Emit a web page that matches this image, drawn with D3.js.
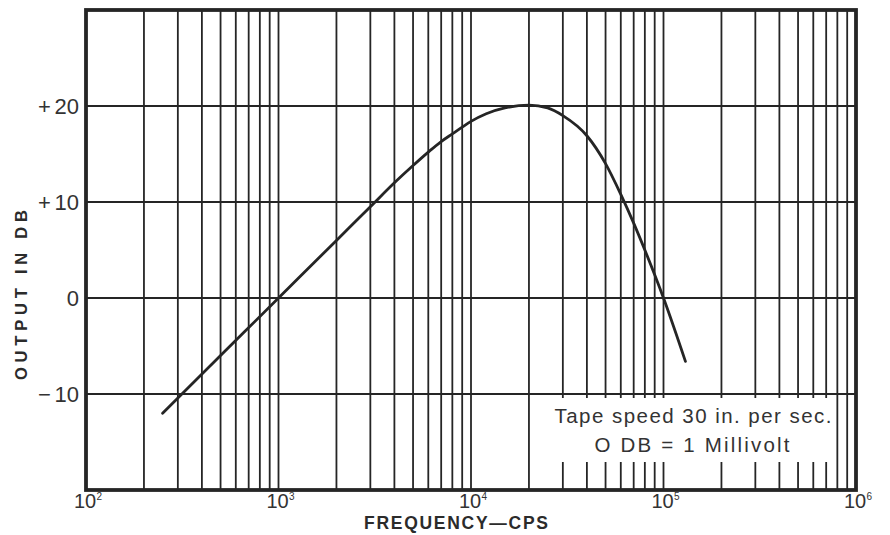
<!DOCTYPE html>
<html>
<head>
<meta charset="utf-8">
<script src="https://cdn.jsdelivr.net/npm/d3@7"></script>
<style>
  html, body { margin: 0; padding: 0; background: #ffffff; }
  svg { display: block; }
</style>
</head>
<body>
<svg id="chart" width="890" height="535"></svg>
<script>
// ---- data ----
const frequencyHz = [250, 500, 1000, 2000, 3000, 4000, 5000, 6000, 7000, 8000, 9000, 10000, 12000, 15000, 20000, 25000, 30000, 40000, 50000, 60000, 70000, 80000, 100000, 130000];
const outputDb    = [-12, -6, 0, 6, 9.5, 12.0, 13.8, 15.2, 16.3, 17.1, 17.8, 18.4, 19.2, 19.8, 20.1, 19.8, 19.0, 16.9, 14.0, 10.8, 7.8, 5.0, 0, -6.6];
const xDecades    = [2, 3, 4, 5, 6];
const yTicks      = [-10, 0, 10, 20];
const yTickSigns  = ["\u2212", "", "+", "+"];
const yTickDigits = ["10", "0", "10", "20"];
const xTitle = "FREQUENCY\u2014CPS";
const yTitle = "OUTPUT IN DB";
const noteLines = ["Tape speed 30 in. per sec.", "O DB = 1 Millivolt"];

(function () {
// ---- layout ----
const svg = d3.select("#chart");
const pL = 86, pR = 856, pT = 10, pB = 490;
const ink = "#252525";
const font = "'Liberation Sans', Arial, Helvetica, sans-serif";

const x = d3.scaleLog().domain([1e2, 1e6]).range([pL, pR]);
const y = d3.scaleLinear().domain([-20, 30]).range([pB, pT]);

svg.append("rect").attr("width", 890).attr("height", 535).attr("fill", "#ffffff");

// vertical log grid
const gridVals = [];
for (let d = 2; d < 6; d++) {
  for (let k = 1; k <= 9; k++) {
    const v = k * Math.pow(10, d);
    if (v > 1e2 && v < 1e6) gridVals.push(v);
  }
}
const grid = svg.append("g").attr("stroke", ink).attr("stroke-width", 1.8);
grid.selectAll("line.v").data(gridVals).enter().append("line")
  .attr("class", "v")
  .attr("x1", d => x(d)).attr("x2", d => x(d))
  .attr("y1", pT).attr("y2", pB);
grid.selectAll("line.h").data(yTicks).enter().append("line")
  .attr("class", "h")
  .attr("x1", pL).attr("x2", pR)
  .attr("y1", d => y(d)).attr("y2", d => y(d));

// white box behind note
svg.append("rect")
  .attr("x", 549).attr("y", 398).attr("width", 285).attr("height", 64)
  .attr("fill", "#ffffff");

// border
svg.append("rect")
  .attr("x", pL).attr("y", pT).attr("width", pR - pL).attr("height", pB - pT)
  .attr("fill", "none").attr("stroke", ink).attr("stroke-width", 3.8);

// curve
const pts = frequencyHz.map((f, i) => [f, outputDb[i]]);
const line = d3.line().x(d => x(d[0])).y(d => y(d[1])).curve(d3.curveMonotoneX);
svg.append("path").datum(pts)
  .attr("d", line)
  .attr("fill", "none").attr("stroke", ink).attr("stroke-width", 2.8)
  .attr("stroke-linecap", "round").attr("stroke-linejoin", "round");

// y tick labels
const yl = svg.append("g").selectAll("text").data(yTicks).enter().append("text")
  .attr("x", 79).attr("y", d => y(d) + 7.5)
  .attr("text-anchor", "end")
  .attr("font-family", font).attr("font-size", 22).attr("fill", "#333");
yl.append("tspan").text((d, i) => yTickSigns[i] ? yTickSigns[i] + "\u2006" : "");
yl.append("tspan").text((d, i) => yTickDigits[i]);

// x tick labels 10^n
const xl = svg.append("g").attr("font-family", font).attr("fill", "#333");
xDecades.forEach(n => {
  const cx = x(Math.pow(10, n));
  xl.append("text").attr("x", cx - 1).attr("y", 508).attr("text-anchor", "middle")
    .attr("font-size", 20).text("10");
  xl.append("text").attr("x", cx + 10.5).attr("y", 500).attr("text-anchor", "start")
    .attr("font-size", 10).text(String(n));
});

// axis titles
svg.append("text")
  .attr("x", 456).attr("y", 529).attr("text-anchor", "middle")
  .attr("font-family", font).attr("font-weight", "bold").attr("font-size", 17.5)
  .attr("fill", "#2b2b2b")
  .attr("textLength", 184).attr("lengthAdjust", "spacing")
  .text(xTitle);

svg.append("text")
  .attr("transform", "translate(27,295) rotate(-90)")
  .attr("text-anchor", "middle")
  .attr("font-family", font).attr("font-weight", "bold").attr("font-size", 16.5)
  .attr("fill", "#2b2b2b")
  .attr("textLength", 170).attr("lengthAdjust", "spacing")
  .text(yTitle);

// note
svg.append("text")
  .attr("x", 693).attr("y", 423).attr("text-anchor", "middle")
  .attr("font-family", font).attr("font-size", 20.5).attr("fill", "#333")
  .attr("textLength", 277).attr("lengthAdjust", "spacing")
  .text(noteLines[0]);
svg.append("text")
  .attr("x", 692).attr("y", 452).attr("text-anchor", "middle")
  .attr("font-family", font).attr("font-size", 20.5).attr("fill", "#333")
  .attr("textLength", 195).attr("lengthAdjust", "spacing")
  .text(noteLines[1]);
})();
</script>
</body>
</html>
